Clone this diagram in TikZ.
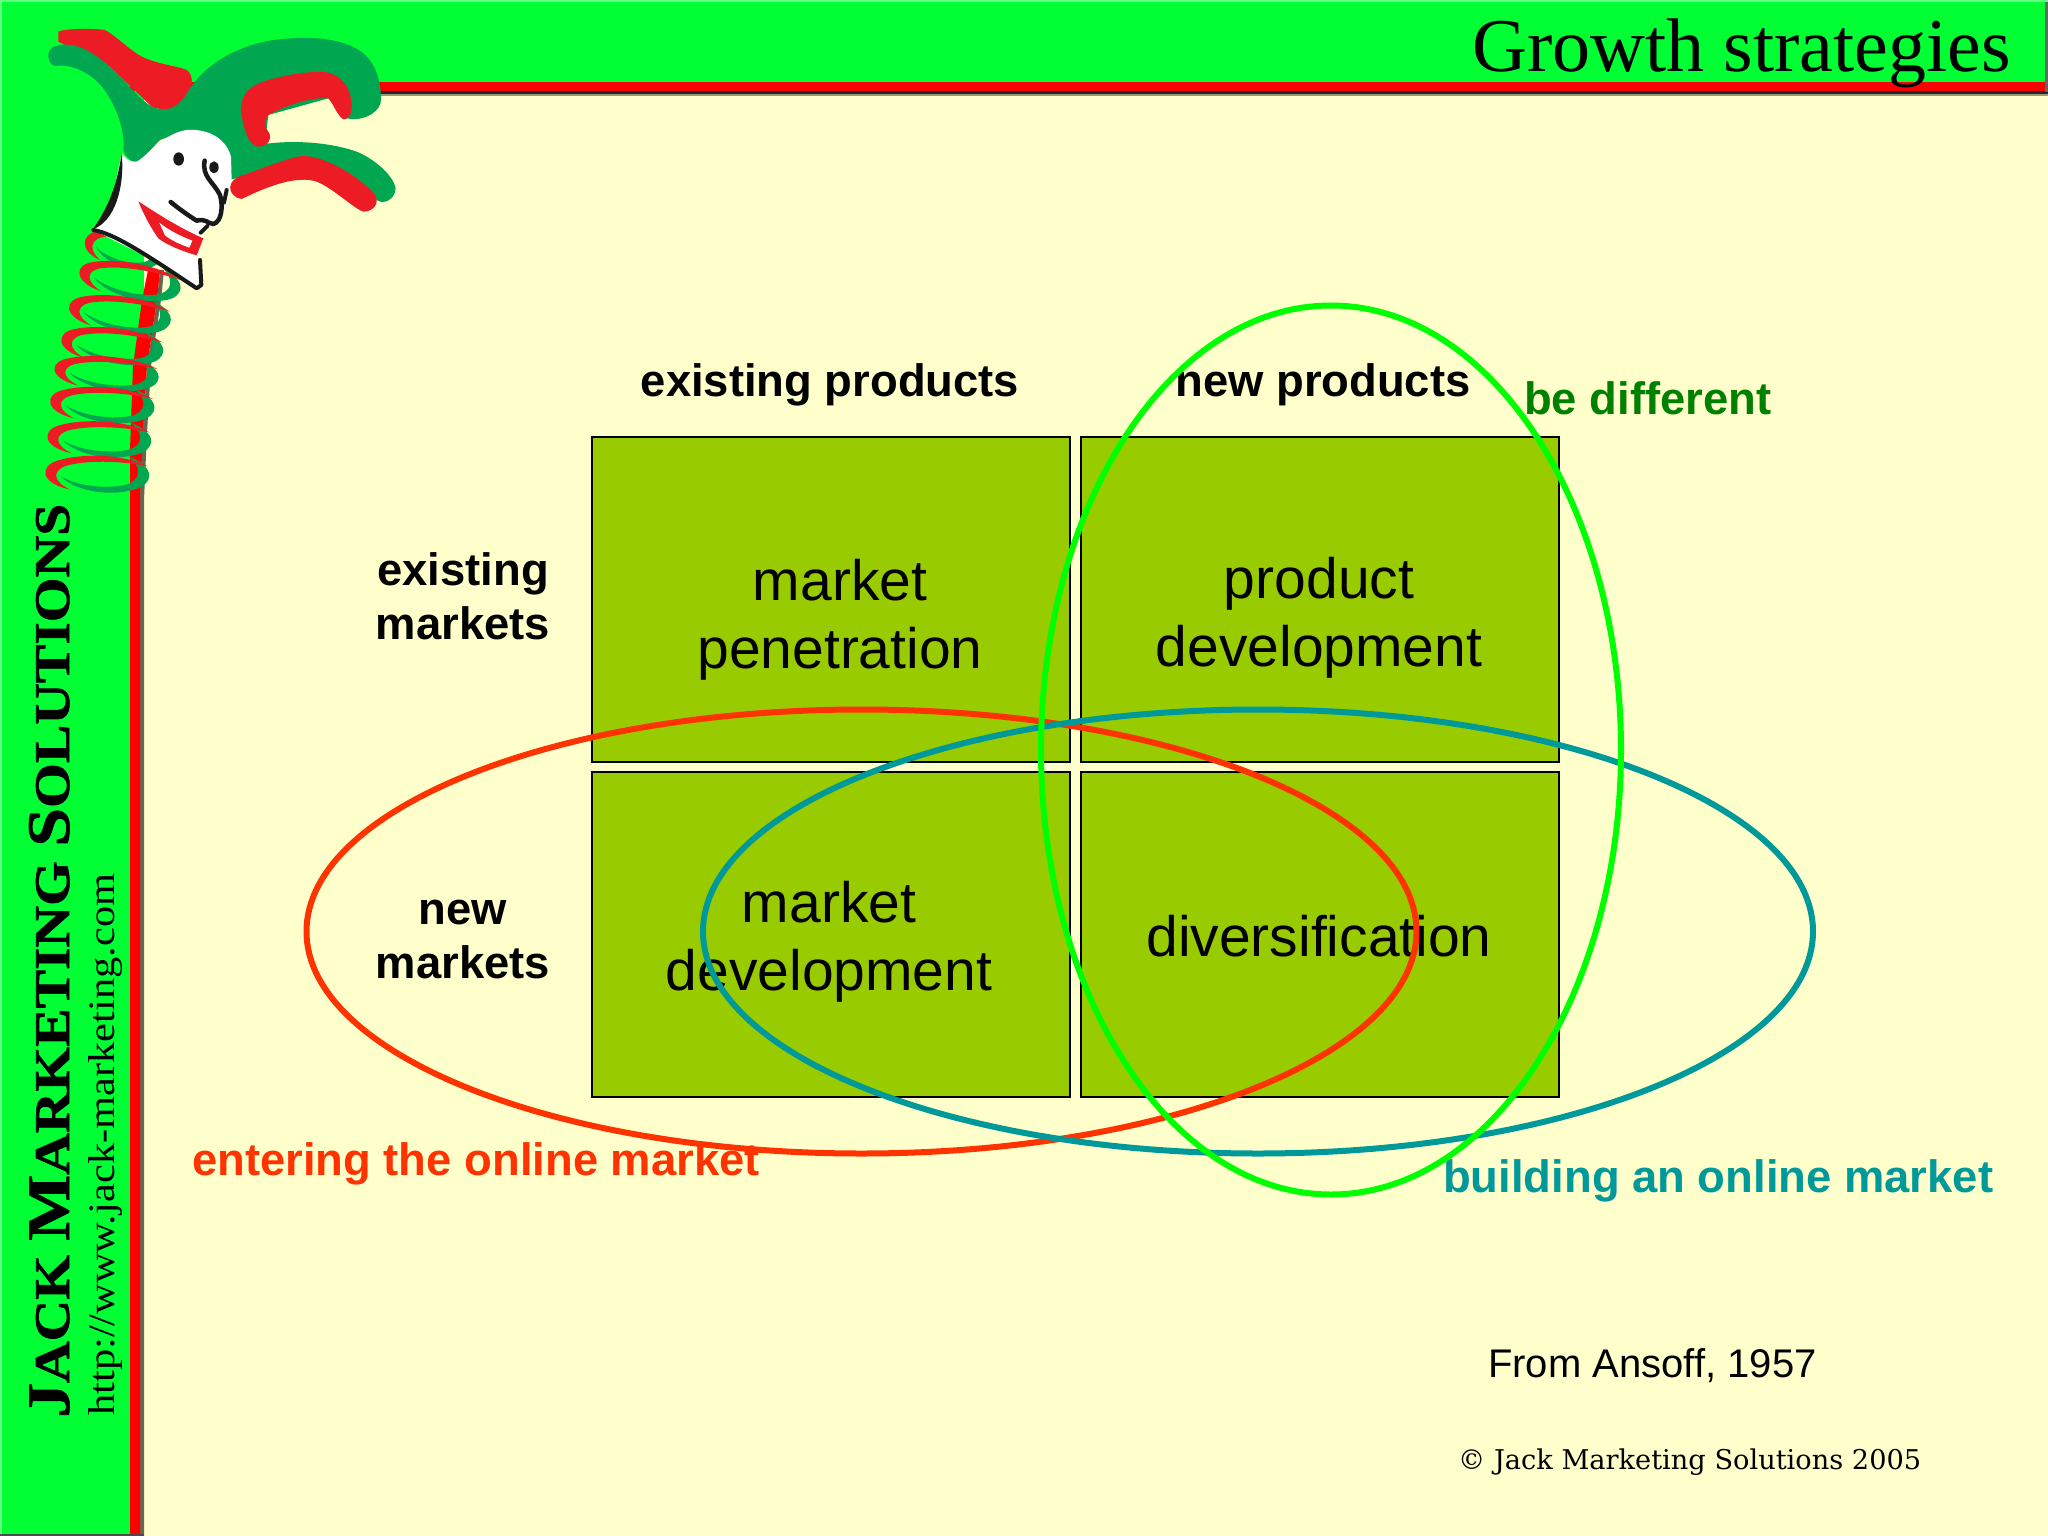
\documentclass[tikz,border=0pt]{standalone}
\usepackage{fontspec}
\usepackage{graphicx}
\usetikzlibrary{shapes.geometric}
\setmainfont{Liberation Sans}
\newfontfamily\serifface{Liberation Serif}
\newfontfamily\brandface[BoldFeatures={FakeBold=1.2}]{Liberation Serif}
\newfontfamily\bookface{DejaVu Serif}
\definecolor{bargreen}{HTML}{00FF33}
\definecolor{cream}{HTML}{FFFFCC}
\definecolor{barred}{HTML}{FF0000}
\definecolor{cellgreen}{HTML}{99CC00}
\definecolor{hatgreen}{HTML}{00A650}
\definecolor{hatred}{HTML}{ED1C24}
\definecolor{orangeline}{HTML}{FF3300}
\definecolor{tealline}{HTML}{009999}
\definecolor{limeline}{HTML}{00FF00}
\definecolor{darklabel}{HTML}{008000}
\tikzset{
  x=1pt,y=-1pt,
  cellbox/.style={draw=black,line width=2pt,fill=cellgreen,minimum width=477.5pt,minimum height=324.5pt,inner sep=0pt},
  celltext/.style={font=\fontsize{57}{68}\selectfont,align=center,anchor=base,inner sep=0pt},
  headtext/.style={font=\fontsize{45.4}{54}\selectfont\bfseries,align=center,anchor=base,inner sep=0pt},
  colourlabel/.style={font=\fontsize{45.4}{54}\selectfont\bfseries,anchor=base west,inner sep=0pt},
  ringline/.style={draw,ellipse,line width=6pt,inner sep=0pt},
}
\newcommand{\coilring}[5]{%
  \begin{scope}[shift={(#1,#2)},rotate=#5,xscale=#3,yscale=#4]
    \fill[hatgreen] (-0.75,0.3) .. controls (-0.4,1.1) and (0.3,1.15) .. (0.72,0.72)
      .. controls (1.1,0.35) and (1.12,-0.55) .. (0.55,-1)
      .. controls (0.85,-0.5) and (0.84,0.2) .. (0.55,0.5)
      .. controls (0.2,0.78) and (-0.35,0.8) .. (-0.75,0.3) -- cycle;
    \fill[hatred] (-0.55,0.95) .. controls (-1.15,0.75) and (-1.2,-0.2) .. (-0.8,-0.55)
      .. controls (-0.4,-0.95) and (0.4,-1.15) .. (0.95,-0.55)
      .. controls (0.4,-0.75) and (-0.3,-0.65) .. (-0.68,-0.25)
      .. controls (-0.92,0.05) and (-0.9,0.6) .. (-0.55,0.95) -- cycle;
  \end{scope}}
\begin{document}
\begin{tikzpicture}
\useasboundingbox (0,0) rectangle (2048,1536);
% frame
\fill[bargreen] (0,0) rectangle (2048,1536);
\fill[cream] (144,96) rectangle (2048,1536);
\fill[black!40!cream] (160,94) rectangle (2048,96);
\fill[black!85] (160,91) rectangle (2048,94);
\fill[barred] (130,82) rectangle (2048,91);
\fill[black!60!cream] (140,1536) -- (140,500) -- (143,433) -- (147,366) -- (157,300) -- (160,270) -- (164,270) -- (161,300) -- (151,366) -- (147,433) -- (144,500) -- (144,1536) -- cycle;
\fill[barred] (130,1536) -- (130,450) -- (133,366) -- (142,300) -- (148,270) -- (160,270) -- (157,300) -- (147,366) -- (143,433) -- (140,500) -- (140,1536) -- cycle;
\fill[bargreen!60!white] (0,0) rectangle (2048,2);
\fill[bargreen!60!white] (0,0) rectangle (2,1536);
\fill[black!60] (2045,2) rectangle (2048,92);
\fill[black!70] (0,1534) rectangle (144,1536);
% jester
\begin{scope}[scale=0.33333]
  \coilring{375}{745}{115}{55}{-14}
  \coilring{395}{840}{150}{55}{-12}
  \coilring{365}{940}{150}{55}{-10}
  \coilring{342}{1035}{150}{55}{-9}
  \coilring{325}{1118}{153}{52}{-7}
  \coilring{312}{1212}{153}{55}{-6}
  \coilring{303}{1315}{152}{55}{-5}
  \coilring{297}{1420}{152}{57}{-4}
  \fill[hatred] (175,95) .. controls (190,85) and (290,85) .. (315,90) .. controls (360,115) and (400,165) .. (450,180)
    .. controls (490,195) and (540,200) .. (560,210) .. controls (580,225) and (578,250) .. (570,270) .. controls (560,295) and (545,315) .. (530,322)
    .. controls (510,330) and (475,330) .. (455,320) -- (330,200) -- (175,125) -- cycle;
  \fill[hatgreen] (145,165) .. controls (145,140) and (175,130) .. (215,135) .. controls (270,145) and (320,190) .. (360,230)
    .. controls (400,270) and (440,320) .. (470,325) .. controls (510,335) and (540,320) .. (570,265)
    .. controls (620,190) and (720,130) .. (840,118) .. controls (950,105) and (1060,120) .. (1105,175)
    .. controls (1135,210) and (1145,260) .. (1142,310) .. controls (1130,345) and (1080,365) .. (1040,355)
    -- (985,295) -- (805,345) -- (795,430) -- (810,430) .. controls (900,420) and (1000,430) .. (1070,455)
    .. controls (1120,475) and (1180,525) .. (1187,565) .. controls (1185,600) and (1150,615) .. (1130,600)
    .. controls (1060,530) and (960,470) .. (900,475) -- (690,540) -- (690,460) -- (560,390) -- (480,420)
    .. controls (450,450) and (425,485) .. (405,485) .. controls (390,485) and (375,465) .. (370,450)
    .. controls (375,390) and (350,320) .. (310,265) .. controls (270,215) and (210,190) .. (165,198)
    .. controls (150,195) and (145,180) .. (145,165) -- cycle;
  \fill[hatred] (722,330) .. controls (725,285) and (745,260) .. (790,245) .. controls (850,225) and (940,210) .. (985,218)
    .. controls (1030,230) and (1050,265) .. (1055,310) .. controls (1058,340) and (1045,360) .. (1030,358)
    .. controls (1010,345) and (1000,310) .. (985,295) .. controls (930,290) and (850,320) .. (805,345)
    .. controls (790,360) and (795,385) .. (808,400) .. controls (815,420) and (805,435) .. (780,440)
    .. controls (745,445) and (730,380) .. (722,330) -- cycle;
  \fill[hatred] (690,560) .. controls (695,540) and (710,530) .. (730,525) .. controls (790,505) and (860,475) .. (905,468)
    .. controls (970,465) and (1080,530) .. (1125,585) .. controls (1140,610) and (1120,635) .. (1090,635)
    .. controls (1060,625) and (1000,565) .. (950,545) .. controls (890,525) and (800,560) .. (725,597)
    .. controls (705,595) and (690,580) .. (690,560) -- cycle;
  \fill[white] (365,460) .. controls (380,480) and (395,488) .. (410,485) .. controls (440,470) and (490,400) .. (560,390)
    .. controls (630,385) and (680,420) .. (693,470) -- (695,540) -- (680,610) -- (660,670) -- (610,690) -- (595,770) -- (605,860)
    -- (590,865) -- (500,800) -- (280,690) -- (330,630) -- cycle;
  \fill[black!90] (365,460) .. controls (355,530) and (335,610) .. (278,688) .. controls (345,665) and (375,560) .. (365,460) -- cycle;
  \draw[black!90,line width=4pt,line cap=round,line join=round] (280,690) .. controls (340,700) and (430,760) .. (500,805) -- (590,865) -- (604,855) -- (600,780);
  \fill[black!90] (536,477) ellipse [x radius=16, y radius=20];
  \fill[black!90] (642,502) ellipse [x radius=14, y radius=18];
  \draw[black!90,line width=4.5pt,line cap=round,line join=round] (614,482) .. controls (605,530) and (640,545) .. (660,585)
    .. controls (670,620) and (665,665) .. (640,672) .. controls (620,670) and (620,655) .. (590,662) .. controls (570,650) and (535,625) .. (512,606);
  \draw[black!90,line width=4pt,line cap=round] (680,570) -- (672,608);
  \draw[black!90,line width=4pt,line cap=round] (602,698) -- (622,678);
  \fill[hatred] (415,604) .. controls (470,640) and (540,685) .. (610,715) -- (590,766) .. controls (550,755) and (500,735) .. (475,715)
    .. controls (450,680) and (430,640) .. (415,604) -- cycle;
  \fill[white] (478,668) .. controls (505,690) and (540,708) .. (577,722) -- (568,743) .. controls (540,733) and (515,722) .. (495,706) -- cycle;
\end{scope}
% sidebar text
\node[rotate=90,anchor=base west,inner sep=0pt] (brand) at (69,1418) {\resizebox{914pt}{40pt}{\brandface\bfseries\fontsize{52}{52}\selectfont J\fontsize{43}{43}\selectfont ACK \fontsize{52}{52}\selectfont M\fontsize{43}{43}\selectfont ARKETING \fontsize{52}{52}\selectfont S\fontsize{43}{43}\selectfont OLUTIONS}};
\node[rotate=90,anchor=base west,inner sep=0pt] (site) at (114,1416) {\resizebox{542pt}{26pt}{\serifface\fontsize{36}{36}\selectfont http://www.jack-marketing.com}};
% title
\node[anchor=base east,inner sep=0pt,font=\serifface\fontsize{76}{76}\selectfont] (title) at (2011,72) {Growth strategies};
% matrix cells
\node[cellbox,anchor=north west] (c11) at (591,436) {};
\node[cellbox,anchor=north west] (c12) at (1080,436) {};
\node[cellbox,anchor=north west] (c21) at (591,771) {};
\node[cellbox,anchor=north west] (c22) at (1080,771) {};
\node[celltext] (t11) at (840,668) {market\\penetration};
\node[celltext] (t12) at (1319,666) {product\\development};
\node[celltext] (t21) at (829,990) {market\\development};
\node[celltext] (t22) at (1319,956) {diversification};
% headers
\node[headtext] (h1) at (830,396) {existing products};
\node[headtext] (h2) at (1323,396) {new products};
\node[headtext] (r1) at (463,639) {existing\\markets};
\node[headtext] (r2) at (463,978) {new\\markets};
% labels
\node[colourlabel,text=darklabel] (l1) at (1524,414) {be different};
\node[colourlabel,text=orangeline] (l2) at (192,1175) {entering the online market};
\node[colourlabel,text=tealline] (l3) at (1443,1192) {building an online market};
\node[anchor=base west,inner sep=0pt,font=\fontsize{40}{48}\selectfont] (src) at (1488,1377) {From Ansoff, 1957};
\node[anchor=base west,inner sep=0pt] (copy) at (1458,1469) {\resizebox{463pt}{!}{\bookface\fontsize{26}{26}\selectfont © Jack Marketing Solutions 2005}};
% rings
\node[ringline,draw=orangeline,minimum width=1110pt,minimum height=444pt] (ring1) at (861.5,931.5) {};
\node[ringline,draw=tealline,minimum width=1110pt,minimum height=444pt] (ring2) at (1258,931.5) {};
\node[ringline,draw=limeline,minimum width=580pt,minimum height=889pt] (ring3) at (1331,750) {};
\end{tikzpicture}
\end{document}
